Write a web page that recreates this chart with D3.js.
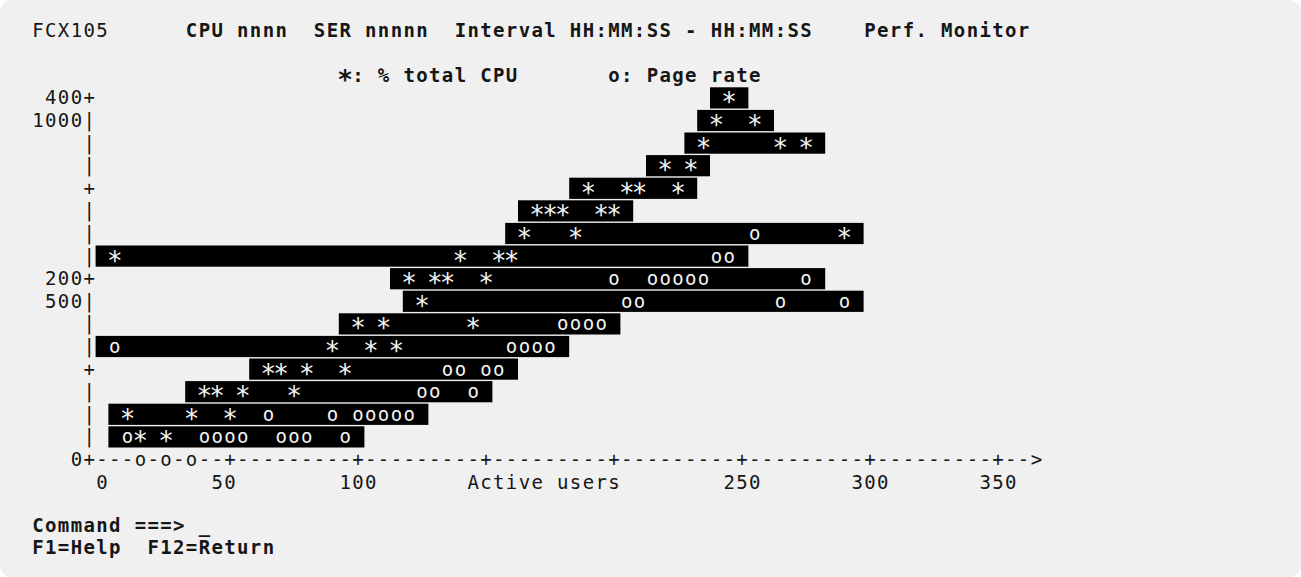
<!DOCTYPE html>
<html><head><meta charset="utf-8">
<script src="https://cdn.jsdelivr.net/npm/d3@7"></script>
<style>
html,body{margin:0;padding:0;background:#ffffff;}
svg{display:block;}
</style></head><body>
<svg id="chart" width="1301" height="577"></svg>
<script>
// ---------- data ----------
const screenId = "FCX105";
const headerText = "CPU nnnn  SER nnnnn  Interval HH:MM:SS - HH:MM:SS    Perf. Monitor";
const legendCpu = "*: % total CPU";
const legendPage = "o: Page rate";
const xTitle = "Active users";
const commandLine = "Command ===> _";
const keysLine = "F1=Help  F12=Return";

const xTickValues = [50, 100, 150, 200, 250, 300, 350];
const xLabelValues = [0, 50, 100, 250, 300, 350];
const xLabelTexts = ["0", "50", "100", "250", "300", "350"];

const cpuTickValues = [0, 100, 200, 300, 400];
const cpuLabelValues = [0, 200, 400];
const cpuLabelTexts = ["0", "200", "400"];
const pageLabelValues = [1000, 500];
const pageLabelTexts = ["1000", "500"];

// one entry per plot row (CPU level), top to bottom
const levels = [400, 375, 350, 325, 300, 275, 250, 225, 200, 175, 150, 125, 100, 75, 50, 25, 0];
// active users at which a "*" (% total CPU) falls on each row
const cpuUsers = [
  [245],
  [240, 255],
  [235, 265, 275],
  [220, 230],
  [190, 205, 210, 225],
  [170, 175, 180, 195, 200],
  [165, 185, 290],
  [5, 140, 155, 160],
  [120, 130, 135, 150],
  [125],
  [100, 110, 145],
  [90, 105, 115],
  [65, 70, 80, 95],
  [40, 45, 55, 75],
  [10, 35, 50],
  [15, 25],
  []
];
// active users at which an "o" (page rate) falls on each row
const pageUsers = [
  [],
  [],
  [],
  [],
  [],
  [],
  [255],
  [240, 245],
  [200, 215, 220, 225, 230, 235, 275],
  [205, 210, 265, 290],
  [180, 185, 190, 195],
  [5, 160, 165, 170, 175],
  [135, 140, 150, 155],
  [125, 130, 145],
  [65, 90, 100, 105, 110, 115, 120],
  [10, 40, 45, 50, 55, 70, 75, 80, 95],
  [15, 25, 35]
];

// ---------- layout (character grid) ----------
const W = 1301, H = 577;
const CW = 12.8, X0 = 38;      // column pitch, centre of column 0
const RH = 22.6, Y0 = 29.9;    // row pitch, centre of row 0
const colX = c => X0 + c * CW;
const rowY = r => Y0 + r * RH;
const STEP = 5;                // users per character cell
const FONT = "'DejaVu Sans Mono', 'Liberation Mono', monospace";
const FS = 19;
const INK = "#161616";

const svg = d3.select("#chart");
svg.append("rect").attr("x", 0).attr("y", 0).attr("width", W).attr("height", H)
  .attr("rx", 12).attr("ry", 12).attr("fill", "#f0f0f0");

const xScale = d3.scaleLinear().domain([0, 350]).range([colX(5), colX(75)]);
const yScale = d3.scaleLinear().domain([0, 400]).range([rowY(19), rowY(3)]);
const pageScale = d3.scaleLinear().domain([0, 1000]).range([yScale(-25), yScale(375)]);

function glyph(g, ch, x, cy, opts = {}) {
  if (ch === " ") return;
  const star = ch === "*";
  g.append("text")
    .attr("x", x)
    .attr("y", cy + (star ? 13.6 : 6.6))
    .attr("text-anchor", "middle")
    .attr("font-family", FONT)
    .attr("font-size", star ? 26 : FS)
    .attr("font-weight", opts.bold ? "bold" : "normal")
    .attr("fill", opts.fill || INK)
    .text(ch);
}
function line(g, str, x, cy, opts) {
  Array.from(str).forEach((ch, i) => glyph(g, ch, x + i * CW, cy, opts));
}

const gText = svg.append("g");
// header / legend
line(gText, screenId, colX(0), rowY(0));
line(gText, headerText, colX(12), rowY(0), { bold: true });
line(gText, legendCpu, colX(24), rowY(2), { bold: true });
line(gText, legendPage, colX(45), rowY(2), { bold: true });

// ---------- bars and marks ----------
const rows = levels.map((lv, i) => ({ level: lv, cpu: cpuUsers[i], page: pageUsers[i] }));
const gBars = svg.append("g");
rows.filter(d => d.level > 0 && (d.cpu.length + d.page.length) > 0).forEach(d => {
  const all = d.cpu.concat(d.page);
  const lo = d3.min(all) - STEP, hi = d3.max(all) + STEP;
  gBars.append("rect")
    .attr("x", xScale(lo) - CW / 2)
    .attr("width", xScale(hi) - xScale(lo) + CW)
    .attr("y", yScale(d.level) - 10.4)
    .attr("height", 21.2)
    .attr("fill", "#000");
});
const gMarks = svg.append("g");
rows.forEach(d => {
  const col = d.level > 0 ? "#f4f4f4" : INK;
  d.cpu.forEach(u => glyph(gMarks, "*", xScale(u), yScale(d.level), { fill: col }));
  d.page.forEach(u => glyph(gMarks, "o", xScale(u), yScale(d.level), { fill: col }));
});

// ---------- axes ----------
const gAxis = svg.append("g");
const axisX = xScale(-STEP);
// y axis
levels.forEach(lv => {
  glyph(gAxis, cpuTickValues.includes(lv) ? "+" : "|", axisX, yScale(lv));
});
cpuLabelValues.forEach((v, i) => {
  const t = cpuLabelTexts[i];
  line(gAxis, t, axisX - t.length * CW, yScale(v));
});
pageLabelValues.forEach((v, i) => {
  const t = pageLabelTexts[i];
  line(gAxis, t, axisX - t.length * CW, pageScale(v));
});
// x axis
const zeroRow = rows.find(d => d.level === 0);
for (let u = 0; u <= 365; u += STEP) {
  if (zeroRow.page.includes(u) || zeroRow.cpu.includes(u)) continue;
  let ch = "-";
  if (xTickValues.includes(u)) ch = "+";
  if (u === 365) ch = ">";
  glyph(gAxis, ch, xScale(u), yScale(0));
}
const labelY = rowY(20);
xLabelValues.forEach((v, i) => {
  const t = xLabelTexts[i];
  const start = xScale(v) - Math.floor(t.length / 2) * CW;
  line(gAxis, t, start, labelY);
});
line(gAxis, xTitle, xScale(145), labelY);

// ---------- command area ----------
line(gText, commandLine, colX(0), rowY(22) - 2, { bold: true });
line(gText, keysLine, colX(0), rowY(23) - 2.5, { bold: true });
</script>
</body></html>
